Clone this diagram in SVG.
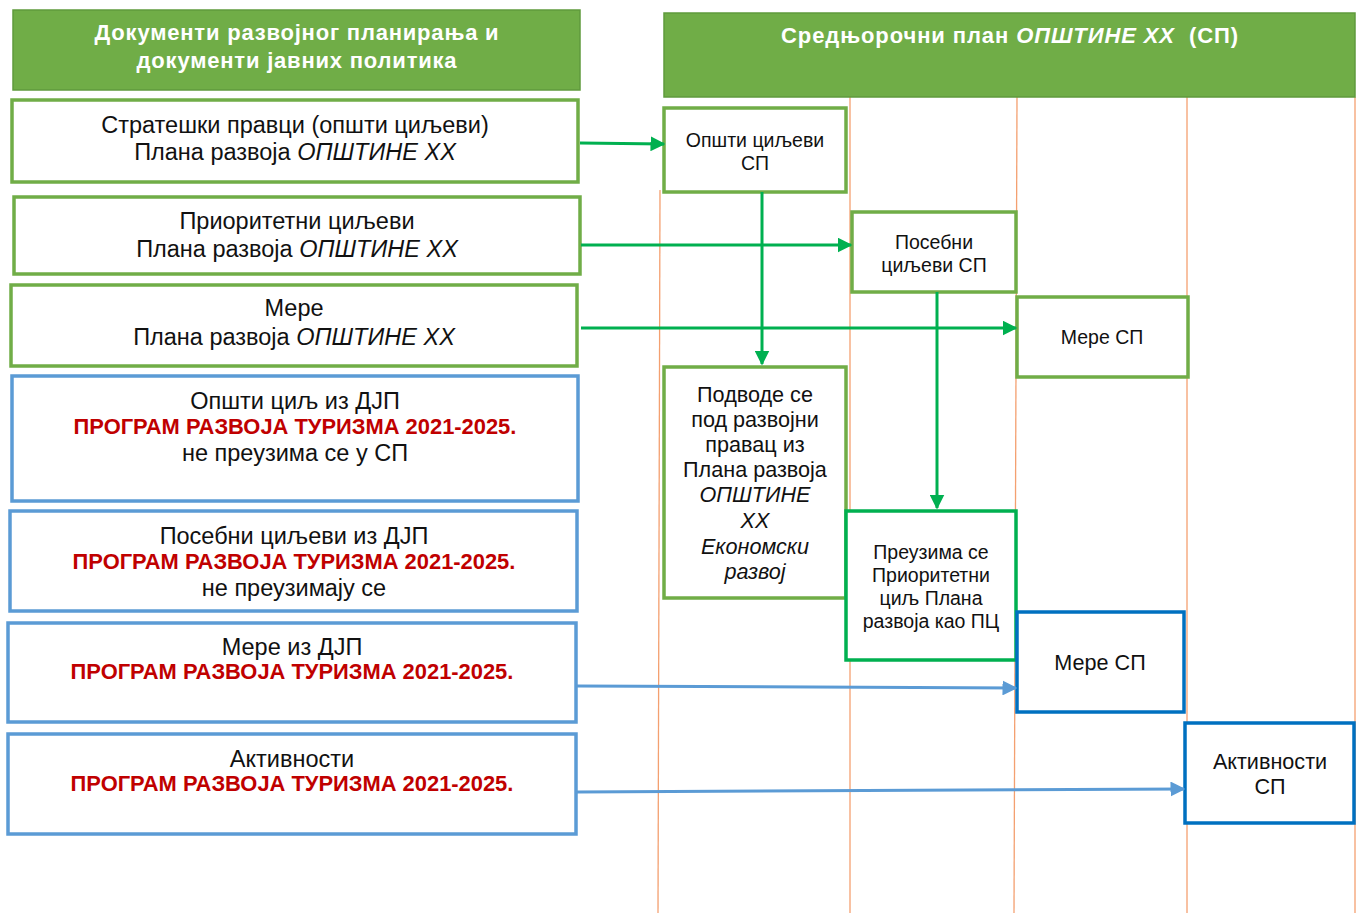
<svg xmlns="http://www.w3.org/2000/svg" width="1362" height="924" viewBox="0 0 1362 924">
<defs>
<style>
.hdr{fill:#70ad47;stroke:#5f9a3c;stroke-width:1.5}
.ht{font-family:"Liberation Sans",Arial,sans-serif;font-weight:bold;fill:#fff;font-size:22px;letter-spacing:0.8px;text-anchor:middle}
.gb{fill:#fff;stroke:#70ad47;stroke-width:3.5}
.gb2{fill:#fff;stroke:#00b050;stroke-width:3.5}
.bb{fill:#fff;stroke:#5b9bd5;stroke-width:3.5}
.db{fill:#fff;stroke:#0070c0;stroke-width:3.5}
.t{font-family:"Liberation Sans",Arial,sans-serif;fill:#111;font-size:23.5px;text-anchor:middle}
.ts{font-family:"Liberation Sans",Arial,sans-serif;fill:#111;font-size:19.5px;text-anchor:middle}
.tm{font-family:"Liberation Sans",Arial,sans-serif;fill:#111;font-size:21.6px;text-anchor:middle}
.r{font-weight:bold;fill:#c00000;font-size:21.9px}
.i{font-style:italic}
.lane{stroke:#f4a070;stroke-width:1.3;fill:none}
.ga{stroke:#00b050;stroke-width:3;fill:none;marker-end:url(#ag)}
.ba{stroke:#5b9bd5;stroke-width:3;fill:none;marker-end:url(#ab)}
</style>
<marker id="ag" viewBox="0 0 10 10" refX="9" refY="5" markerWidth="5" markerHeight="5" orient="auto" markerUnits="strokeWidth"><path d="M0,0 L10,5 L0,10 z" fill="#00b050"/></marker>
<marker id="ab" viewBox="0 0 10 10" refX="9" refY="5" markerWidth="5" markerHeight="5" orient="auto" markerUnits="strokeWidth"><path d="M0,0 L10,5 L0,10 z" fill="#5b9bd5"/></marker>
</defs>
<rect width="1362" height="924" fill="#fff"/>

<g id="lanes">
<line class="lane" x1="660" y1="190" x2="658" y2="913"/>
<line class="lane" x1="850" y1="97" x2="850" y2="913"/>
<line class="lane" x1="1017" y1="97" x2="1014" y2="913"/>
<line class="lane" x1="1187" y1="97" x2="1187" y2="913"/>
<line class="lane" x1="1355" y1="97" x2="1355" y2="913"/>
</g>

<g id="header-left">
<rect class="hdr" x="13" y="10" width="567" height="80"/>
<text class="ht" x="297" y="40">Документи развојног планирања и</text>
<text class="ht" x="297" y="68">документи јавних политика</text>
</g>
<g id="header-right">
<rect class="hdr" x="664" y="13" width="691" height="84"/>
<text class="ht" x="1010" y="43" style="font-size:22px;letter-spacing:0.9px" xml:space="preserve">Средњорочни план <tspan font-style="italic">ОПШТИНЕ XX</tspan>  (СП)</text>
</g>

<g id="l1"><rect class="gb" x="12" y="100" width="566" height="82"/>
<text class="t" x="295" y="133">Стратешки правци (општи циљеви)</text>
<text class="t" x="295" y="160">Плана развоја <tspan class="i">ОПШТИНЕ XX</tspan></text></g>
<g id="l2"><rect class="gb" x="14" y="197" width="566" height="77"/>
<text class="t" x="297" y="229">Приоритетни циљеви</text>
<text class="t" x="297" y="257">Плана развоја <tspan class="i">ОПШТИНЕ XX</tspan></text></g>
<g id="l3"><rect class="gb" x="11" y="285" width="566" height="81"/>
<text class="t" x="294" y="316">Мере</text>
<text class="t" x="294" y="345">Плана развоја <tspan class="i">ОПШТИНЕ XX</tspan></text></g>
<g id="l4"><rect class="bb" x="12" y="376" width="566" height="125"/>
<text class="t" x="295" y="409">Општи циљ из ДЈП</text>
<text class="t r" x="295" y="434">ПРОГРАМ РАЗВОЈА ТУРИЗМА 2021-2025.</text>
<text class="t" x="295" y="461">не преузима се у СП</text></g>
<g id="l5"><rect class="bb" x="10" y="511" width="567" height="100"/>
<text class="t" x="294" y="544">Посебни циљеви из ДЈП</text>
<text class="t r" x="294" y="569">ПРОГРАМ РАЗВОЈА ТУРИЗМА 2021-2025.</text>
<text class="t" x="294" y="596">не преузимају се</text></g>
<g id="l6"><rect class="bb" x="8" y="623" width="568" height="99"/>
<text class="t" x="292" y="655">Мере из ДЈП</text>
<text class="t r" x="292" y="679">ПРОГРАМ РАЗВОЈА ТУРИЗМА 2021-2025.</text></g>
<g id="l7"><rect class="bb" x="8" y="734" width="568" height="100"/>
<text class="t" x="292" y="767">Активности</text>
<text class="t r" x="292" y="791">ПРОГРАМ РАЗВОЈА ТУРИЗМА 2021-2025.</text></g>

<g id="r1"><rect class="gb" x="664" y="108" width="182" height="84"/>
<text class="ts" x="755" y="147">Општи циљеви</text>
<text class="ts" x="755" y="170">СП</text></g>
<g id="r2"><rect class="gb" x="852" y="212" width="164" height="80"/>
<text class="ts" x="934" y="249">Посебни</text>
<text class="ts" x="934" y="272">циљеви СП</text></g>
<g id="r3"><rect class="gb" x="1017" y="297" width="171" height="80"/>
<text class="ts" x="1102" y="344">Мере СП</text></g>
<g id="r4"><rect class="gb" x="664" y="367" width="182" height="231"/>
<text class="tm" x="755" y="402">Подводе се</text>
<text class="tm" x="755" y="427">под развојни</text>
<text class="tm" x="755" y="452">правац из</text>
<text class="tm" x="755" y="477">Плана развоја</text>
<text class="tm i" x="755" y="502">ОПШТИНЕ</text>
<text class="tm i" x="755" y="528">XX</text>
<text class="tm i" x="755" y="554">Економски</text>
<text class="tm i" x="755" y="579">развој</text></g>
<g id="r5"><rect class="gb2" x="846" y="511" width="170" height="149"/>
<text class="ts" x="931" y="559">Преузима се</text>
<text class="ts" x="931" y="582">Приоритетни</text>
<text class="ts" x="931" y="605">циљ Плана</text>
<text class="ts" x="931" y="628">развоја као ПЦ</text></g>
<g id="r6"><rect class="db" x="1017" y="612" width="167" height="100"/>
<text class="tm" x="1100" y="670">Мере СП</text></g>
<g id="r7"><rect class="db" x="1185" y="723" width="169" height="100"/>
<text class="tm" x="1270" y="769">Активности</text>
<text class="tm" x="1270" y="794">СП</text></g>

<g id="connectors">
<line class="ga" x1="580" y1="143" x2="664" y2="144"/>
<line class="ga" x1="581" y1="245" x2="851" y2="245"/>
<line class="ga" x1="581" y1="328" x2="1016" y2="328"/>
<line class="ga" x1="762" y1="192" x2="762" y2="364"/>
<line class="ga" x1="937" y1="292" x2="937" y2="508"/>
<line class="ba" x1="577" y1="686" x2="1016" y2="688"/>
<line class="ba" x1="577" y1="792" x2="1184" y2="789"/>
</g>
</svg>
